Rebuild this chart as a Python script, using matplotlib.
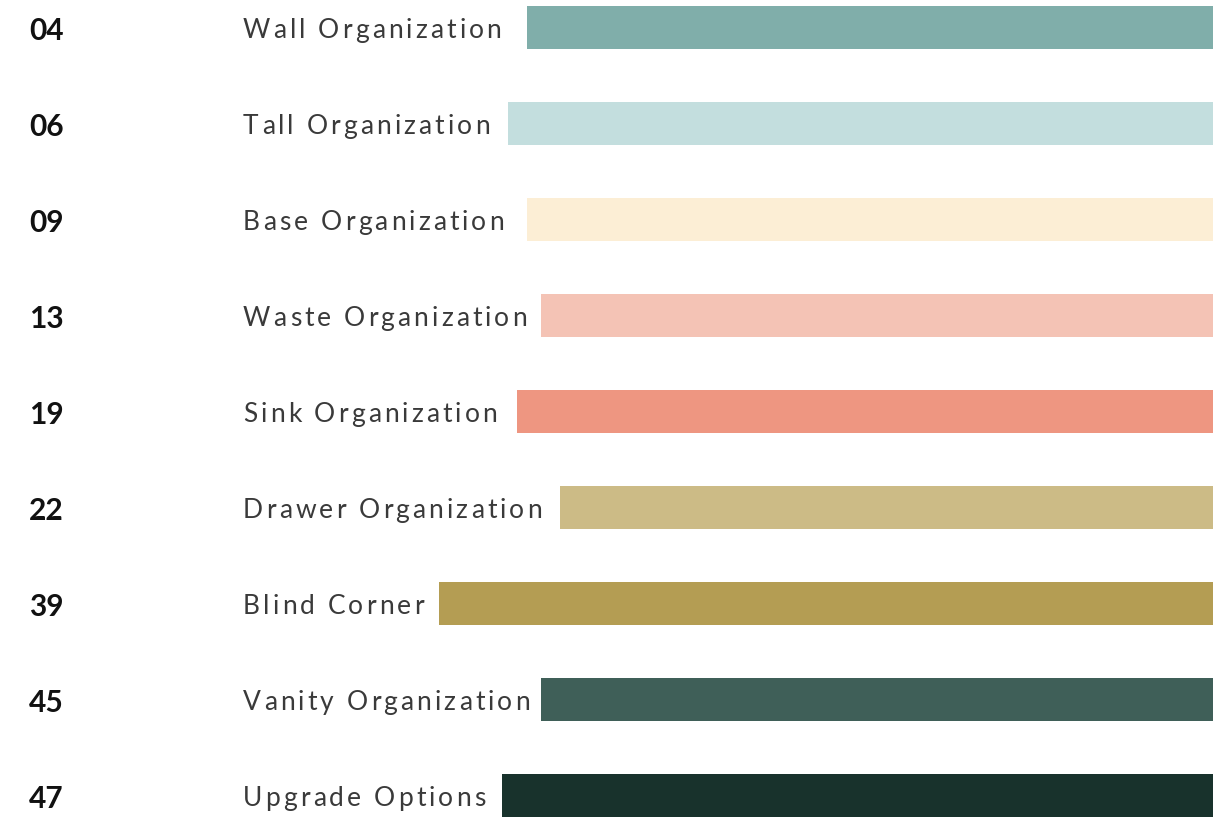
import matplotlib
matplotlib.use("Agg")
from matplotlib import pyplot as plt
from matplotlib import font_manager as fm
from matplotlib.ft2font import FT2Font

# section numbers, titles and bar lengths (in px of the 1229 wide canvas)
numbers = ["04", "06", "09", "13", "19", "22", "39", "45", "47"]
labels = ["Wall Organization", "Tall Organization", "Base Organization",
          "Waste Organization", "Sink Organization", "Drawer Organization",
          "Blind Corner", "Vanity Organization", "Upgrade Options"]
bar_lengths = [686, 705, 686, 672, 696, 653, 774, 672, 711]
colors = ["#80AEAA", "#C3DEDE", "#FCEED5", "#F4C3B5", "#EE9681",
          "#CCBB86", "#B49D53", "#3F5F58", "#18322C"]

W, H = 1229, 818
DPI = 100
right_edge = 1213
label_size = 19
tracking = 3.1  # extra px between letters, the titles are spaced out

fig = plt.figure(figsize=(W / DPI, H / DPI), dpi=DPI)
ax = fig.add_axes([0, 0, 1, 1])
ax.set_xlim(0, W)
ax.set_ylim(H, 0)
ax.axis("off")

ys = [27.5 + 96 * i for i in range(len(labels))]
lefts = [right_edge - l for l in bar_lengths]
ax.barh(ys, bar_lengths, left=lefts, height=43, color=colors)

# glyph advances so the titles can be drawn letter by letter with tracking
lab_prop = fm.FontProperties(family="Lato", weight="normal", size=label_size)
ft = FT2Font(fm.findfont(lab_prop))
ft.set_size(label_size, DPI)


def advance(ch):
    g = ft.load_char(ord(ch))
    return g.linearHoriAdvance / 65536


for y, num, lab in zip(ys, numbers, labels):
    ax.text(29, y + 0.5, num, fontsize=21.5, fontfamily="Lato", fontweight="bold",
            va="center_baseline", ha="left", color="#111111")
    x = 243
    for ch in lab:
        if ch != " ":
            ax.text(x, y + 0.5, ch, fontproperties=lab_prop, va="center_baseline",
                    ha="left", color="#3a3a3a")
        x += advance(ch) + tracking

fig.savefig("out.png", dpi=DPI)
